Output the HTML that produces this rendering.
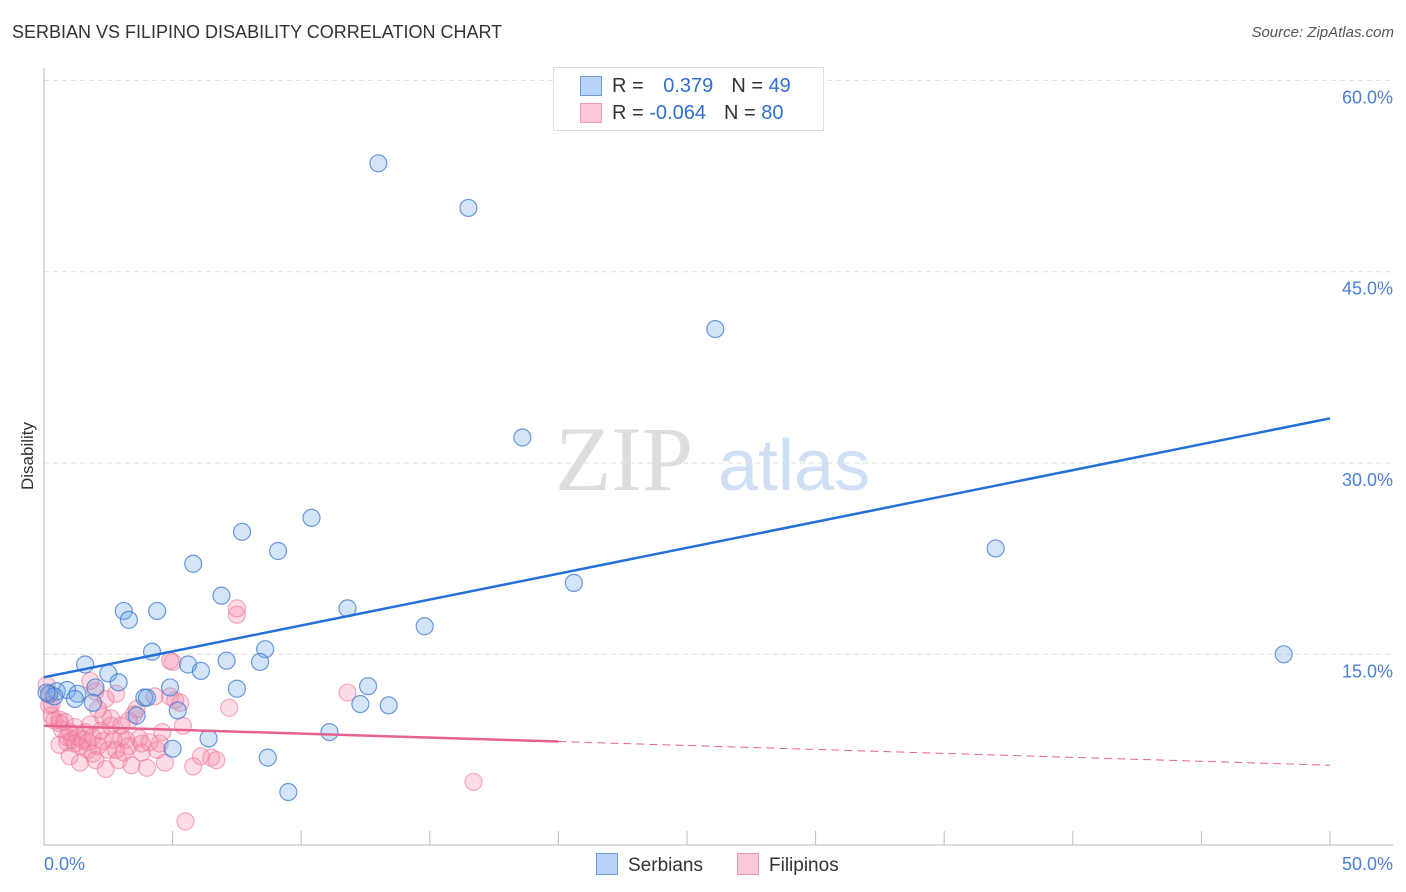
<!DOCTYPE html>
<html><head><meta charset="utf-8"><style>
body{margin:0;background:#fff;font-family:"Liberation Sans",sans-serif;}
#wrap{position:relative;width:1406px;height:892px;overflow:hidden}
.t{position:absolute;white-space:nowrap}
</style></head><body><div id="wrap">
<div class="t" style="left:12px;top:22px;font-size:18px;color:#333">SERBIAN VS FILIPINO DISABILITY CORRELATION CHART</div>
<div class="t" style="right:12px;top:24px;font-size:15px;color:#555;font-style:italic">Source: ZipAtlas.com</div>
<svg id="svg" width="1406" height="892" style="position:absolute;left:0;top:0"></svg>
</div>
<script>
const blueX=[13.0,16.5,26.1,18.6,37.0,48.2,20.6,10.4,7.7,9.1,5.8,6.9,3.1,3.3,4.4,11.8,14.8,4.2,8.6,1.6,5.6,6.1,7.1,8.4,2.5,2.9,2.0,0.5,0.9,0.2,1.3,4.9,7.5,12.6,3.9,4.0,0.4,1.2,12.3,13.4,1.9,5.2,3.6,11.1,6.4,5.0,8.7,9.5,0.1];
const blueY=[53.5,50.0,40.5,32.0,23.3,15.0,20.6,25.7,24.6,23.1,22.1,19.6,18.4,17.7,18.4,18.6,17.2,15.2,15.4,14.2,14.2,13.7,14.5,14.4,13.5,12.8,12.4,12.1,12.2,11.9,11.9,12.4,12.3,12.5,11.6,11.6,11.7,11.5,11.1,11.0,11.2,10.6,10.2,8.9,8.4,7.6,6.9,4.2,12.0];
const pinkX=[0.1,0.2,0.2,0.3,0.4,0.6,0.6,0.7,0.8,0.9,0.9,1.0,1.1,1.2,1.2,1.3,1.4,1.5,1.6,1.7,1.7,1.8,1.9,1.9,2.0,2.1,2.2,2.3,2.3,2.4,2.5,2.6,2.6,2.7,2.8,2.9,3.0,3.0,3.1,3.2,3.3,3.3,3.4,3.5,3.6,3.7,3.8,3.8,4.0,4.1,4.3,4.4,4.5,4.6,4.7,4.9,5.1,5.3,5.4,5.5,5.8,6.1,6.5,6.7,7.2,7.5,7.5,5.0,4.9,11.8,16.7,1.8,2.0,2.4,2.8,0.6,1.0,0.3,1.4,2.1];
const pinkY=[12.6,11.8,11.0,10.2,9.8,9.9,9.6,9.1,9.7,8.5,8.1,8.9,8.3,8.0,9.3,8.5,7.8,8.3,8.9,7.5,8.1,9.5,7.2,8.5,6.7,7.8,9.0,10.1,8.2,6.0,7.5,9.4,10.0,8.3,7.5,6.7,8.5,9.4,7.3,8.3,7.8,9.8,6.3,10.3,10.7,8.4,7.3,8.0,6.1,8.1,11.7,7.5,8.0,8.9,6.5,11.7,11.4,11.2,9.4,1.9,6.2,7.0,6.9,6.7,10.8,18.1,18.6,14.4,14.5,12.0,5.0,12.9,12.1,11.5,11.9,7.9,7.0,11.1,6.5,10.7];
const blueLine=[13.2,33.5];
const pinkLine=[9.4,6.3];
const pinkSolidEnd=20;
const yTicks=[15,30,45,60];
const xTicks=[0,5,10,15,20,25,30,35,40,45,50];
const NS='http://www.w3.org/2000/svg';
const svg=document.getElementById('svg');
const X=v=>44+v/50*1286, Y=v=>845.6-v/15*191.3;
function mk(tag,at,parent){const e=document.createElementNS(NS,tag);for(const k in at)e.setAttribute(k,at[k]);(parent||svg).appendChild(e);return e;}
let w=mk('text',{x:555,y:490,'font-size':92,fill:'#ddd','font-family':'Liberation Serif'});w.textContent='ZIP';


let w2=mk('text',{x:718,y:490,'font-size':72,fill:'#cfdff5','font-family':'Liberation Sans'});w2.textContent='atlas';


yTicks.forEach(v=>{
 const g=mk('line',{x1:44,x2:1393,y1:Y(v),y2:Y(v),stroke:'#ddd','stroke-dasharray':'5,4'});
 
 
 const t=mk('text',{x:1393,y:Y(v)+23,'text-anchor':'end','font-size':18,fill:'#4a7fd6'});t.textContent=v.toFixed(1)+'%';
 
 
});
mk('line',{x1:44,x2:44,y1:68,y2:845,stroke:'#bbb'});
mk('line',{x1:44,x2:1393,y1:845,y2:845,stroke:'#bbb'});
xTicks.forEach(v=>{const l=mk('line',{x1:X(v),x2:X(v),y1:831,y2:845,stroke:'#bbb'});
 
 });
[['0.0%',44,'start'],['50.0%',1393,'end']].forEach(a=>{const t=mk('text',{x:a[1],y:870,'text-anchor':a[2],'font-size':18,fill:'#4a7fd6'});t.textContent=a[0];
 
 });
const yl=mk('text',{transform:'translate(33,456) rotate(-90)','text-anchor':'middle','font-size':17,fill:'#333'});yl.textContent='Disability';


pinkX.forEach((x,i)=>{const c=mk('circle',{cx:X(x),cy:Y(pinkY[i]),r:8.5,fill:'rgba(244,140,170,0.3)',stroke:'rgba(236,120,155,0.6)','stroke-width':1.2});
 
 });
blueX.forEach((x,i)=>{const c=mk('circle',{cx:X(x),cy:Y(blueY[i]),r:8.5,fill:'rgba(110,165,230,0.3)',stroke:'rgba(60,120,210,0.75)','stroke-width':1.2});
 
 });
const bl=mk('line',{x1:X(0),y1:Y(blueLine[0]),x2:X(50),y2:Y(blueLine[1]),stroke:'#2470d6','stroke-width':2.5});


const pe=pinkLine[0]+(pinkLine[1]-pinkLine[0])*pinkSolidEnd/50;
const pl=mk('line',{x1:X(0),y1:Y(pinkLine[0]),x2:X(pinkSolidEnd),y2:Y(pe),stroke:'#e8628f','stroke-width':2.5});


const pd=mk('line',{x1:X(pinkSolidEnd),y1:Y(pe),x2:X(50),y2:Y(pinkLine[1]),stroke:'#e8628f','stroke-width':1,'stroke-dasharray':'8,5'});


</script>
<div class="t" style="left:553px;top:67px;width:269px;height:62px;border:1px solid #ddd;background:#fff">
 <div style="position:absolute;left:26px;top:8px;width:20px;height:18px;background:#b8d3f5;border:1px solid #6a9ee0"></div>
 <div style="position:absolute;left:26px;top:35px;width:20px;height:18px;background:#fbc8d7;border:1px solid #ef9ab4"></div>
 <div class="t" style="left:58px;top:7px;font-size:20px;color:#333">R = <span style="color:#2f6fd0;margin-left:14px">0.379</span><span style="margin-left:18px">N =</span> <span style="color:#2f6fd0">49</span></div>
 <div class="t" style="left:58px;top:34px;font-size:20px;color:#333">R = <span style="color:#2f6fd0">-0.064</span><span style="margin-left:18px">N =</span> <span style="color:#2f6fd0">80</span></div>
</div>
<div class="t" style="left:596px;top:853px;font-size:19px;color:#333"><span style="display:inline-block;width:20px;height:20px;background:#b8d3f5;border:1px solid #6a9ee0;vertical-align:-4px;margin-right:10px"></span>Serbians</div>
<div class="t" style="left:737px;top:853px;font-size:19px;color:#333"><span style="display:inline-block;width:20px;height:20px;background:#fbc8d7;border:1px solid #ef9ab4;vertical-align:-4px;margin-right:10px"></span>Filipinos</div>
</body></html>
